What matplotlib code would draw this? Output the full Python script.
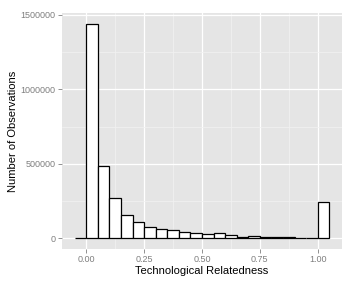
import numpy as np
import matplotlib
matplotlib.use("Agg")
import matplotlib.pyplot as plt
from matplotlib.ticker import FixedLocator

# ─── data ──────────────────────────────────────────────────────────────────
bin_left = [-0.05, 0.00, 0.05, 0.10, 0.15, 0.20, 0.25, 0.30, 0.35, 0.40, 0.45,
            0.50, 0.55, 0.60, 0.65, 0.70, 0.75, 0.80, 0.85, 0.90, 0.95, 1.00]
counts = [0, 1441000, 487000, 271000, 154000, 107000, 78000, 60000, 53000,
          42000, 35000, 29000, 37000, 22000, 11000, 16000, 11000, 8000,
          7000, 5000, 5000, 246000]
bin_width = 0.05
x_ticks = [0.0, 0.25, 0.5, 0.75, 1.0]
x_labels = ["0.00", "0.25", "0.50", "0.75", "1.00"]
y_ticks = [0, 500000, 1000000, 1500000]
y_labels = ["0", "500000", "1000000", "1500000"]

plt.rcParams["font.family"] = ["Liberation Sans", "DejaVu Sans"]

fig = plt.figure(figsize=(3.55, 2.84), dpi=100)
ax = fig.add_axes([62/355, 1 - 249/284, 280/355, 236/284])
ax.set_facecolor("#E5E5E5")

ax.bar(bin_left, counts, width=bin_width, align="edge",
       facecolor="white", edgecolor="black", linewidth=0.9, zorder=3)

# ggplot style expansion
lo, hi = bin_left[0], bin_left[-1] + bin_width
pad = (hi - lo) * 0.05
ax.set_xlim(lo - pad, hi + pad)
ymax = max(counts)
ax.set_ylim(-ymax * 0.05, ymax * 1.05)

ax.set_xticks(x_ticks)
ax.set_xticklabels(x_labels)
ax.set_yticks(y_ticks)
ax.set_yticklabels(y_labels)
ax.xaxis.set_minor_locator(FixedLocator([0.125, 0.375, 0.625, 0.875]))
ax.yaxis.set_minor_locator(FixedLocator([250000, 750000, 1250000]))

ax.grid(which="major", color="white", linewidth=0.9, zorder=0)
ax.grid(which="minor", color="#F2F2F2", linewidth=0.5, zorder=0)
ax.set_axisbelow(True)

for s in ax.spines.values():
    s.set_visible(False)

ax.tick_params(which="major", length=3, width=0.6, color="#7F7F7F",
               labelcolor="#7F7F7F", labelsize=6.5, pad=1.5)
ax.tick_params(which="minor", length=0)

ax.set_xlabel("Technological Relatedness", fontsize=8, labelpad=1)
ax.set_ylabel("Number of Observations", fontsize=8, labelpad=2)

fig.savefig("out.png", dpi=100)
